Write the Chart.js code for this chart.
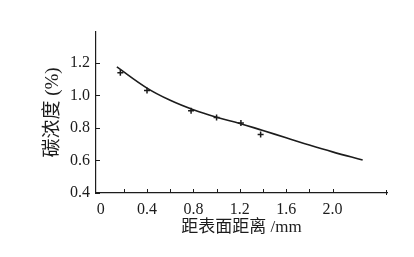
<!DOCTYPE html>
<html>
<head>
<meta charset="utf-8">
<script src="https://cdn.jsdelivr.net/npm/chart.js@4"></script>
<style>
  html, body { margin: 0; padding: 0; background: #fff; }
  #wrap { width: 414px; height: 257px; }
</style>
</head>
<body>
<div id="wrap"><canvas id="c" width="414" height="257"></canvas></div>
<script>
// datos
const puntosX = [0.17, 0.4, 0.78, 1.0, 1.21, 1.38];
const puntosY = [1.14, 1.03, 0.905, 0.865, 0.83, 0.76];
const curvaX = [0.14, 0.4, 0.6, 0.8, 1.0, 1.2, 1.4, 1.6, 1.8, 2.0, 2.26];
const curvaY = [1.175, 1.045, 0.97, 0.912, 0.866, 0.828, 0.784, 0.74, 0.695, 0.653, 0.603];
const ticksX = [0, 0.2, 0.4, 0.6, 0.8, 1.0, 1.2, 1.4, 1.6, 1.8, 2.0];
const etiquetasX = ['0', '', '0.4', '', '0.8', '', '1.2', '', '1.6', '', '2.0'];
const ticksY = [0.4, 0.6, 0.8, 1.0, 1.2];
const etiquetasY = ['0.4', '0.6', '0.8', '1.0', '1.2'];
const tituloX = '距表面距离 /mm';
const tituloY = '碳浓度 (%)';

const fuente = "'Liberation Serif', 'Noto Sans CJK SC', serif";
const negro = '#1c1c1c';

// marcas de los ejes hacia adentro
const marcasPlugin = {
    id: 'marcas',
    afterDraw(chart) {
        const c = chart.ctx;
        const x = chart.scales.x, y = chart.scales.y;
        c.save();
        c.strokeStyle = negro;
        c.lineWidth = 1;
        c.beginPath();
        ticksX.forEach(v => {
            if (v === 0) return;
            const px = Math.round(x.getPixelForValue(v)) + 0.5;
            c.moveTo(px, y.bottom);
            c.lineTo(px, y.bottom - 4);
        });
        const fin = Math.round(x.right) - 0.5;
        c.moveTo(fin, y.bottom + 2);
        c.lineTo(fin, y.bottom - 3);
        ticksY.forEach(v => {
            const py = Math.round(y.getPixelForValue(v)) + 0.5;
            c.moveTo(x.left, py);
            c.lineTo(x.left + 4, py);
        });
        c.stroke();
        c.restore();
    }
};

new Chart(document.getElementById('c'), {
    type: 'scatter',
    data: {
        datasets: [
            {
                type: 'line',
                data: curvaX.map((v, i) => ({ x: v, y: curvaY[i] })),
                borderColor: negro,
                borderWidth: 1.6,
                pointRadius: 0,
                tension: 0.4,
                fill: false
            },
            {
                data: puntosX.map((v, i) => ({ x: v, y: puntosY[i] })),
                pointStyle: 'cross',
                pointRadius: 3,
                borderColor: negro,
                borderWidth: 1.5,
                backgroundColor: negro
            }
        ]
    },
    options: {
        responsive: false,
        animation: false,
        layout: { padding: { left: 0, top: 32, right: 27, bottom: 0 } },
        plugins: { legend: { display: false }, tooltip: { enabled: false } },
        scales: {
            x: {
                type: 'linear',
                min: -0.04,
                max: 2.47,
                afterFit: s => { s.height = 64; },
                afterBuildTicks: s => { s.ticks = ticksX.map(v => ({ value: v })); },
                grid: { display: false, drawTicks: false },
                border: { display: true, color: negro, width: 1.2 },
                ticks: {
                    autoSkip: false,
                    maxRotation: 0,
                    padding: 7,
                    color: negro,
                    font: { family: fuente, size: 16 },
                    callback: (v, i) => etiquetasX[i]
                },
                title: {
                    display: true,
                    text: tituloX,
                    color: negro,
                    font: { family: fuente, size: 17 },
                    padding: { top: 0, bottom: 19 }
                }
            },
            y: {
                type: 'linear',
                min: 0.4,
                max: 1.39,
                afterFit: s => { s.width = 96; },
                afterBuildTicks: s => { s.ticks = ticksY.map(v => ({ value: v })); },
                grid: { display: false, drawTicks: false },
                border: { display: true, color: negro, width: 1.2 },
                ticks: {
                    autoSkip: false,
                    padding: 6,
                    color: negro,
                    font: { family: fuente, size: 16 },
                    callback: (v, i) => etiquetasY[i]
                },
                title: {
                    display: true,
                    text: tituloY,
                    color: negro,
                    font: { family: fuente, size: 19 },
                    padding: { top: 42, bottom: 0 }
                }
            }
        }
    },
    plugins: [marcasPlugin]
});
</script>
</body>
</html>
